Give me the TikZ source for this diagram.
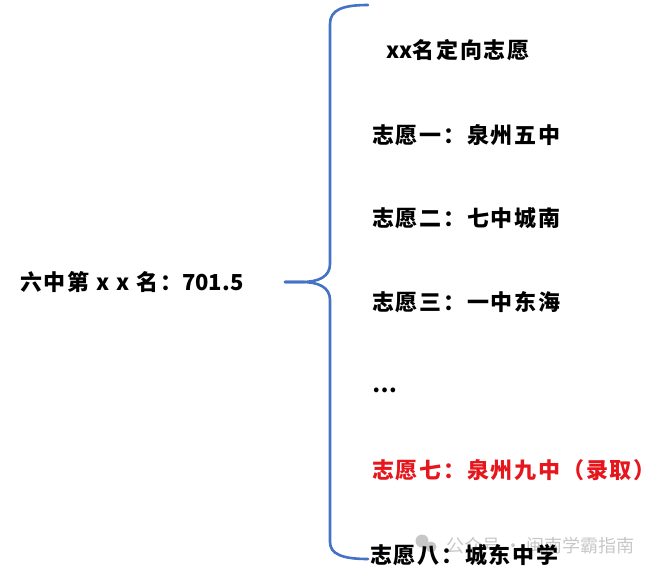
\documentclass[tikz,border=0pt]{standalone}
\usepackage{fontspec}
\setmainfont{Noto Sans CJK SC}
\newfontfamily\wishfont[LetterSpace=8]{Noto Sans CJK SC}
\usepackage{xcolor}
\usepackage{tikz}
\usetikzlibrary{positioning}
\definecolor{braceblue}{HTML}{4472C4}
\definecolor{pickred}{HTML}{E6161D}

\begin{document}
\begin{tikzpicture}[
    x=1pt, y=-1pt,
    wish/.style={anchor=west, inner sep=0pt, font=\wishfont\fontsize{22}{26}\selectfont\bfseries},
    brace/.style={draw=braceblue, line width=2.6pt, line cap=round},
    wmark/.style={anchor=west, inner sep=0pt, text=black!22, font=\fontsize{18}{22}\selectfont}
]
    \useasboundingbox (0,0) rectangle (657,576);

    % Watermark
    \fill[black!22] (422,541) circle (6.5); \fill[black!22] (431,547) circle (5.5);
    \node[wmark] (wm) at (446,546) {公众号 · 闽南学霸指南};

    % Rank
    \node[wish] (rank) at (20,282) {六中第 x x 名：{\rmfamily 701.5}};

    % Brace
    \coordinate (tip) at (285,282); \coordinate (top) at (368,5); \coordinate (bot) at (368,559);
    \draw[brace] (top) .. controls (342,5) and (330,10) .. (330,24) -- (330,264) .. controls (330,277) and (318,282) .. (302,282) -- (tip);
    \draw[brace] (tip) -- (302,282) .. controls (318,282) and (330,287) .. (330,300) -- (330,542) .. controls (330,554) and (342,559) .. (bot);

    % Choices
    \node[wish] (head) at (386,50) {{\rmfamily xx}名定向志愿};
    \node[wish] (w1) at (372,135) {志愿一：泉州五中};
    \node[wish] (w2) at (372,218) {志愿二：七中城南};
    \node[wish] (w3) at (372,302) {志愿三：一中东海};
    \node[wish] (dots) at (372,390) {…};
    \node[wish, text=pickred] (w7) at (372,470) {志愿七：泉州九中（录取）};
    \node[wish] (w8) at (370,555) {志愿八：城东中学};
\end{tikzpicture}
\end{document}
